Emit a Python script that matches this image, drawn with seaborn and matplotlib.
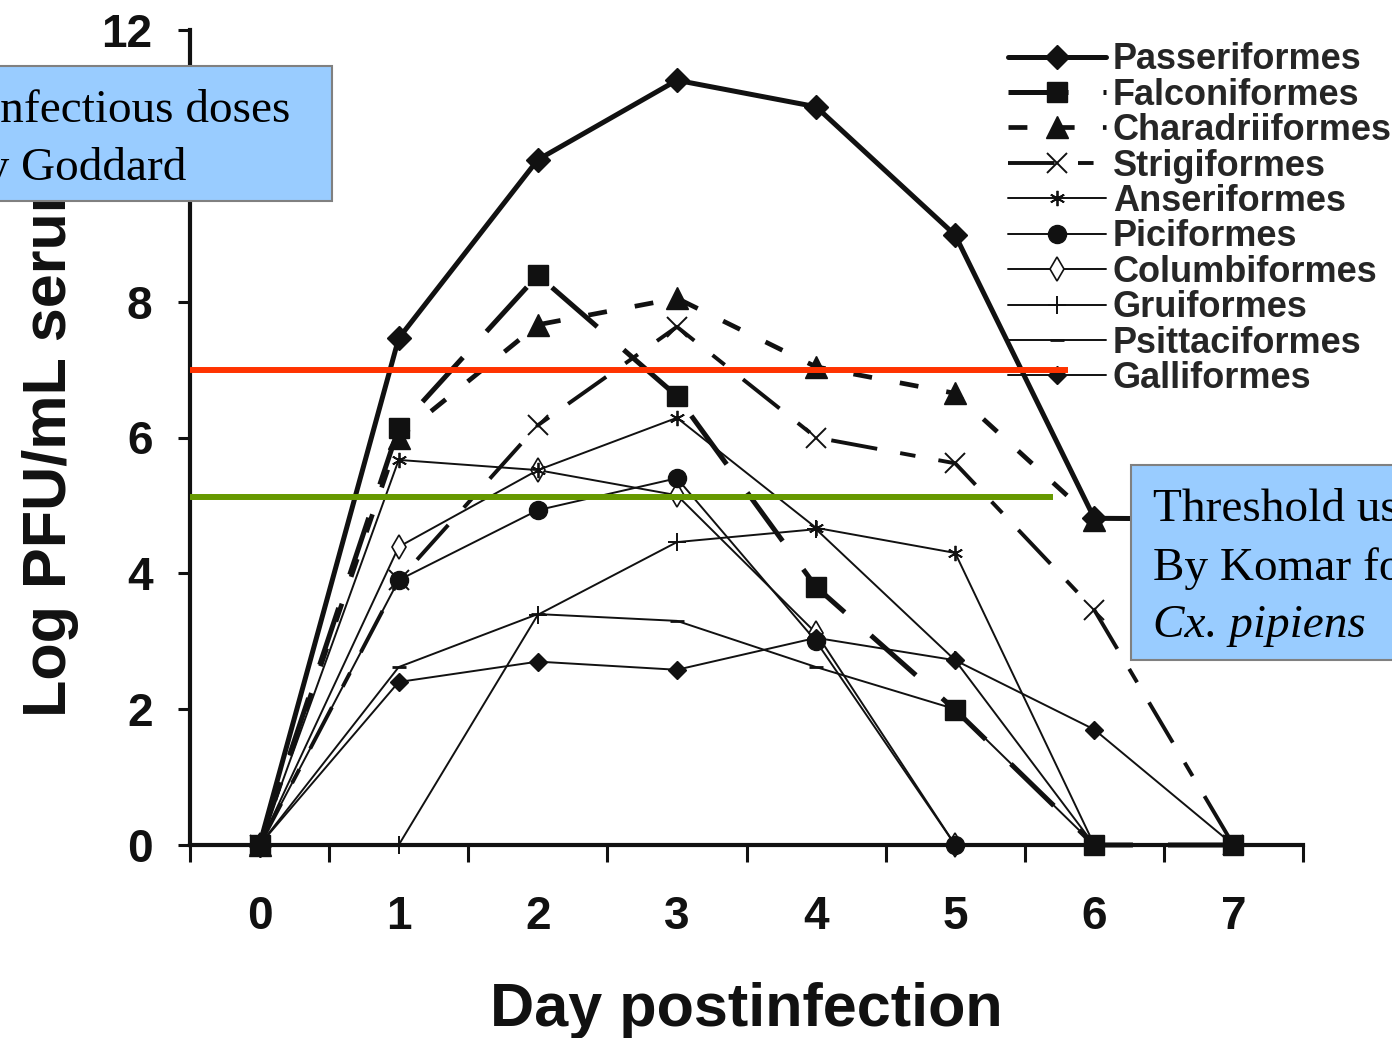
import numpy as np
import pandas as pd
import matplotlib
matplotlib.use("Agg")
import matplotlib.pyplot as plt
import seaborn as sns
from matplotlib.patches import Rectangle
from matplotlib.font_manager import FontProperties

# ---------------- data ----------------
days = [0, 1, 2, 3, 4, 5, 6, 7]
day_labels = ["0", "1", "2", "3", "4", "5", "6", "7"]

passeriformes = [0, 7.46, 10.09, 11.26, 10.87, 8.98, 4.81, 4.80]
falconiformes = [0, 6.14, 8.39, 6.61, 3.80, 1.99, 0, 0]
charadriiformes = [0, 6.00, 7.66, 8.05, 7.04, 6.65, 4.78, np.nan]
strigiformes = [0, 3.90, 6.18, 7.63, 6.00, 5.62, 3.46, 0]
anseriformes = [0, 5.67, 5.52, 6.29, 4.67, 4.30, 0, np.nan]
piciformes = [0, 3.90, 4.93, 5.40, 3.00, 0, np.nan, np.nan]
columbiformes = [0, 4.39, 5.52, 5.15, 3.12, 0, np.nan, np.nan]
gruiformes = [0, 0, 3.39, 4.46, 4.65, 2.72, 0, np.nan]
psittaciformes = [0, 2.62, 3.40, 3.30, 2.62, 2.00, 0, np.nan]
galliformes = [0, 2.40, 2.70, 2.58, 3.05, 2.72, 1.70, 0]

series_names = ["Passeriformes", "Falconiformes", "Charadriiformes", "Strigiformes",
                "Anseriformes", "Piciformes", "Columbiformes", "Gruiformes",
                "Psittaciformes", "Galliformes"]
series_values = [passeriformes, falconiformes, charadriiformes, strigiformes,
                 anseriformes, piciformes, columbiformes, gruiformes,
                 psittaciformes, galliformes]

threshold_goddard = 7.0    # red line
threshold_komar = 5.12     # green line
goddard_end = 5.81
komar_end = 5.70

y_ticks = [0, 2, 4, 6, 8, 10, 12]
y_tick_labels = ["0", "2", "4", "6", "8", "", "12"]

# ---------------- styles ----------------
K = "#111111"
styles = {
    "Passeriformes":   dict(lw=3.6, ls="-", marker="D", ms=12, mfc=K, mew=1, z=4),
    "Falconiformes":   dict(lw=3.6, ls=(0, (12, 7)), marker="s", ms=15, mfc=K, mew=1, z=4),
    "Charadriiformes": dict(lw=3.4, ls=(0, (4, 6)), marker="^", ms=16, mfc=K, mew=1, z=4),
    "Strigiformes":    dict(lw=2.8, ls=(0, (12, 6, 4, 6)), marker="x", ms=14, mfc=K, mew=1.4, z=3),
    "Anseriformes":    dict(lw=1.4, ls="-", marker=(6, 2, 0), ms=11, mfc=K, mew=1.3, z=2.5),
    "Piciformes":      dict(lw=1.4, ls="-", marker="o", ms=13, mfc=K, mew=1, z=2.6),
    "Columbiformes":   dict(lw=1.4, ls="-", marker="d", ms=12, mfc="white", mew=1.2, z=2.4),
    "Gruiformes":      dict(lw=1.4, ls="-", marker="+", ms=13, mfc=K, mew=1.4, z=2.5),
    "Psittaciformes":  dict(lw=1.4, ls="-", marker="_", ms=10, mfc=K, mew=2.0, z=2.5),
    "Galliformes":     dict(lw=1.4, ls="-", marker="D", ms=9, mfc=K, mew=1, z=2.7),
}

# ---------------- figure ----------------
sns.set_style("white")
plt.rcParams["font.family"] = ["Liberation Sans", "DejaVu Sans"]

fig = plt.figure(figsize=(13.92, 10.38), dpi=100)
ax = fig.add_axes([190 / 1392, 1 - 845 / 1038, (1303 - 190) / 1392, (845 - 30) / 1038])

for name, vals in zip(series_names, series_values):
    st = styles[name]
    df = pd.DataFrame({"day": days, "value": vals}).dropna()
    sns.lineplot(data=df, x="day", y="value", ax=ax, estimator=None, sort=False,
                 color=K, linewidth=st["lw"], linestyle=st["ls"],
                 marker=st["marker"], markersize=st["ms"], markerfacecolor=st["mfc"],
                 markeredgecolor=K, markeredgewidth=st["mew"], label=name,
                 clip_on=False, zorder=st["z"])

ax.hlines(threshold_goddard, -0.5, goddard_end, color="#FF3300", lw=4.3, zorder=10)
ax.hlines(threshold_komar, -0.5, komar_end, color="#669900", lw=4.3, zorder=10)

ax.set_xlim(-0.5, 7.5)
ax.set_ylim(0, 12)

# x ticks at category boundaries, labels at categories
ax.set_xticks(np.arange(-0.5, 8.0, 1.0))
ax.set_xticklabels([])
ax.set_xticks(days, minor=True)
ax.set_xticklabels(day_labels, minor=True)
ax.tick_params(axis="x", which="major", direction="out", length=12, width=2.2,
               color=K, bottom=True)
ax.tick_params(axis="x", which="minor", length=0, pad=36, labelsize=33,
               labelcolor=K)
ax.set_yticks(y_ticks)
ax.set_yticklabels(y_tick_labels)
ax.tick_params(axis="y", direction="out", length=9, width=2.2, color=K,
               left=True, pad=18, labelsize=33, labelcolor=K)
for lab in ax.get_xticklabels(minor=True) + ax.get_yticklabels():
    lab.set_fontweight("bold")

for s in ["top", "right"]:
    ax.spines[s].set_visible(False)
for s in ["left", "bottom"]:
    ax.spines[s].set_linewidth(3)
    ax.spines[s].set_color(K)

ax.set_xlabel("Day postinfection", fontsize=44, fontweight="bold", labelpad=31, color=K)
ax.set_ylabel("Log PFU/mL serum", fontsize=44, fontweight="bold", labelpad=16, color=K)

leg = ax.legend(loc="upper left", bbox_to_anchor=(0.735, 0.985), frameon=False,
                prop=FontProperties(family="Liberation Sans", weight="bold", size=26),
                handlelength=2.7, handletextpad=0.2, labelspacing=0.012,
                borderpad=0, borderaxespad=0)

# ---------------- annotation boxes ----------------
W, H = 1392, 1038
def fx(px):
    return px / W
def fy(py):
    return 1 - py / H

box_kw = dict(transform=fig.transFigure, facecolor="#99CCFF", edgecolor="#808080",
              lw=1.5, zorder=20)
fig.patches.append(Rectangle((fx(-20), fy(201)), fx(352), 135 / H, **box_kw))
fig.patches.append(Rectangle((fx(1131), fy(660)), fx(300), 195 / H, **box_kw))

serif = ["Liberation Serif", "DejaVu Serif"]
tkw = dict(fontsize=34, family=serif, color="black", ha="left", va="baseline",
           zorder=21)
fig.text(fx(-13), fy(122), "infectious doses", **tkw)
fig.text(fx(-38), fy(180), "by Goddard", **tkw)
fig.text(fx(1153), fy(521), "Threshold used", **tkw)
fig.text(fx(1153), fy(580), "By Komar for", **tkw)
fig.text(fx(1153), fy(637), "Cx. pipiens", style="italic", **tkw)

fig.savefig("out.png", dpi=100)
